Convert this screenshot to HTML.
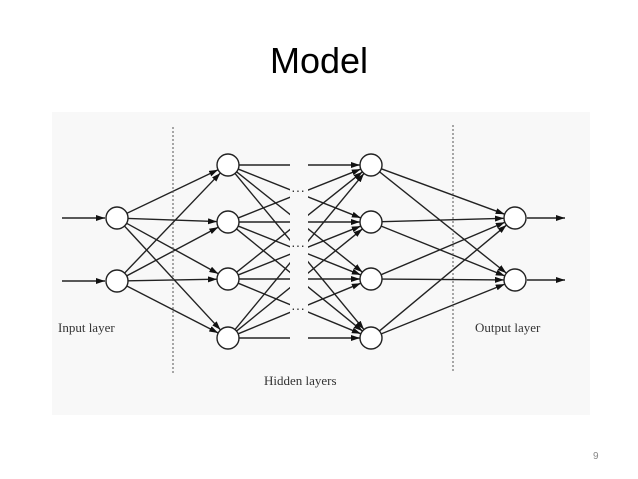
<!DOCTYPE html>
<html><head><style>
body{margin:0;width:638px;height:479px;background:#fff;overflow:hidden;position:relative;font-family:"Liberation Sans",sans-serif}
.t{position:absolute;top:40px;left:0;width:638px;text-align:center;font-size:36px;color:#000}
.n{position:absolute;left:593px;top:451px;font-size:10px;color:#888}
svg{position:absolute;left:0;top:0}
</style></head><body>
<div class="t">Model</div>
<svg width="638" height="479">
<defs><marker id="a" markerWidth="9" markerHeight="6" refX="9" refY="3" orient="auto" markerUnits="userSpaceOnUse"><path d="M0,0L9,3L0,6z" fill="#111"/></marker></defs>
<rect x="52" y="112" width="538" height="303" fill="#f8f8f8"/>
<g stroke="#222" stroke-width="1.4" fill="none" id="g"></g>
<line x1="173" y1="127" x2="173" y2="375" stroke="#555" stroke-dasharray="2,2"/>
<line x1="453" y1="125" x2="453" y2="372" stroke="#555" stroke-dasharray="2,2"/>
<g font-family="Liberation Serif,serif" font-size="13" fill="#333">
<text x="58" y="332">Input layer</text>
<text x="264" y="385">Hidden layers</text>
<text x="475" y="332">Output layer</text>
</g>
</svg>
<script>
var g=document.getElementById('g'),NS='http://www.w3.org/2000/svg';
function L(x1,y1,x2,y2,m,p){var l=document.createElementNS(NS,'line');l.setAttribute('x1',x1);l.setAttribute('y1',y1);l.setAttribute('x2',x2);l.setAttribute('y2',y2);if(m)l.setAttribute('marker-end','url(#a)');(p||g).appendChild(l);}
function C(x,y){var c=document.createElementNS(NS,'circle');c.setAttribute('cx',x);c.setAttribute('cy',y);c.setAttribute('r',11);c.setAttribute('fill','#fff');g.appendChild(c);}
function end(x1,y1,x2,y2,r){var dx=x2-x1,dy=y2-y1,d=Math.hypot(dx,dy);return [x1+dx*r/d,y1+dy*r/d,x2-dx*r/d,y2-dy*r/d];}
var I=[218,281],H=[165,222,279,338],O=[218,280];
I.forEach(function(y){L(62,y,105,y,1);H.forEach(function(h){var e=end(117,y,228,h,11);L(e[0],e[1],e[2],e[3],1);});});
H.forEach(function(y){H.forEach(function(h){var e=end(228,y,371,h,11);L(e[0],e[1],e[2],e[3],1);});O.forEach(function(o){var e=end(371,y,515,o,11);L(e[0],e[1],e[2],e[3],1);});});
O.forEach(function(y){L(527,y,565,y,1);});
var r=document.createElementNS(NS,'rect');r.setAttribute('x',290);r.setAttribute('y',150);r.setAttribute('width',18);r.setAttribute('height',200);r.setAttribute('fill','#f8f8f8');r.setAttribute('stroke','none');g.appendChild(r);
[192,247,310].forEach(function(y){var t=document.createElementNS(NS,'text');t.setAttribute('x',291);t.setAttribute('y',y+3);t.setAttribute('font-size','14');t.setAttribute('fill','#333');t.setAttribute('stroke','none');t.textContent='···';g.appendChild(t);});
I.forEach(function(y){C(117,y)});H.forEach(function(y){C(228,y);C(371,y)});O.forEach(function(y){C(515,y)});
</script>
<div class="n">9</div>
</body></html>
